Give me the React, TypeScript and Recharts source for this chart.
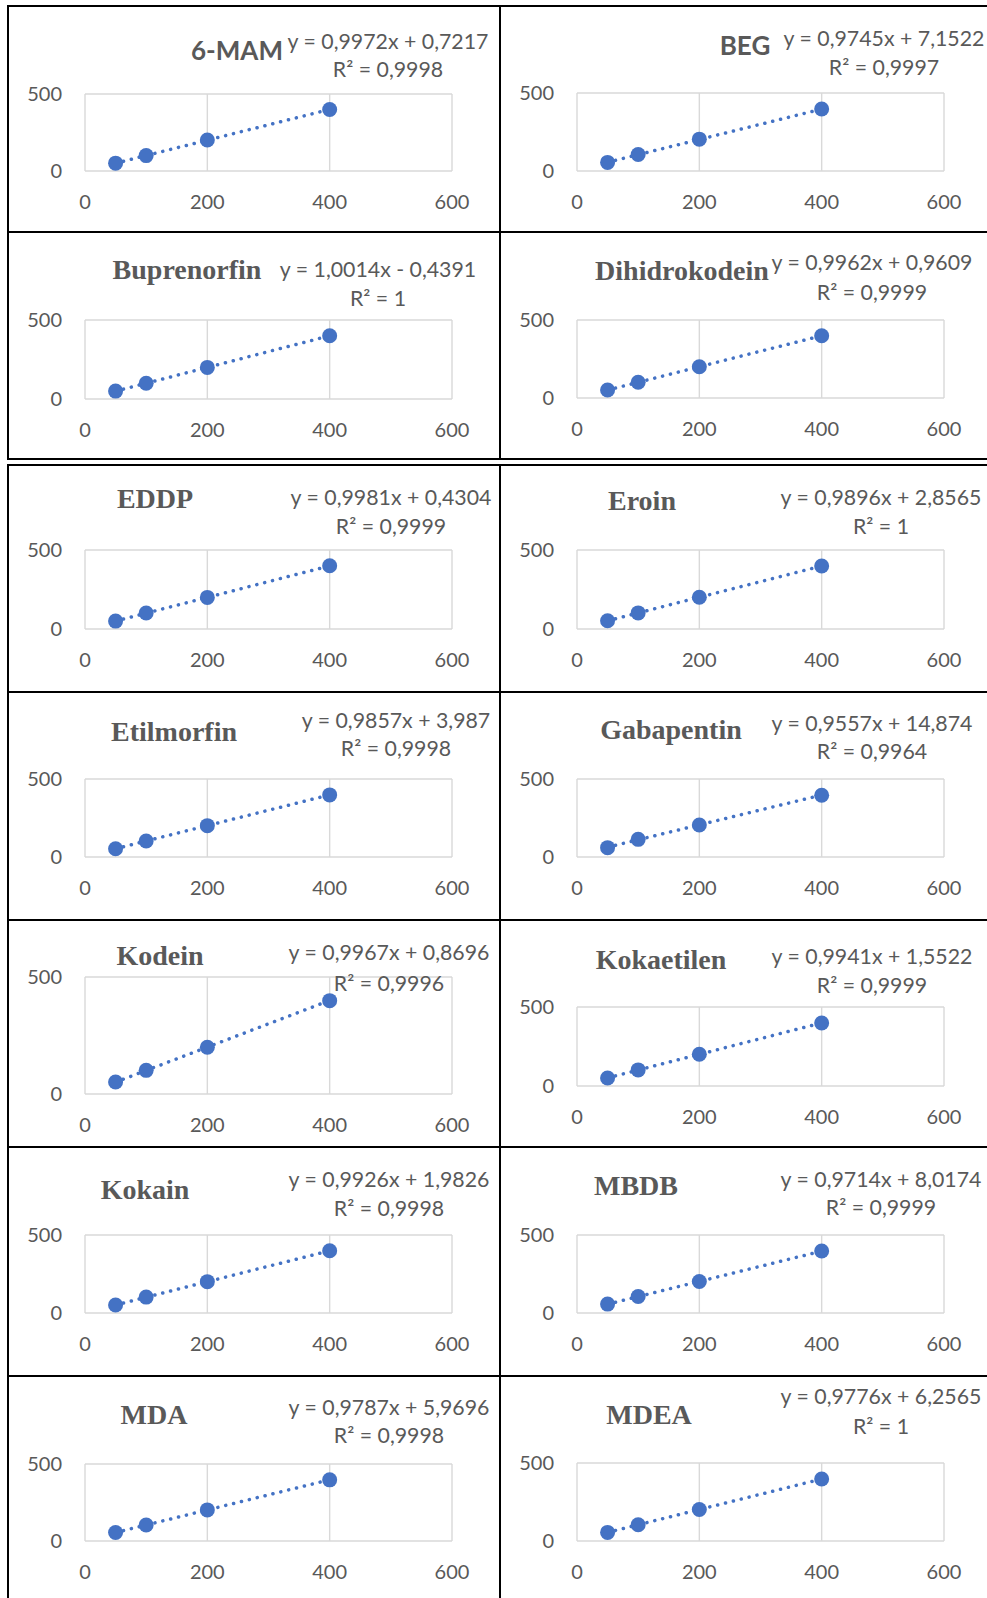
import React from 'react';
import { ScatterChart, Scatter, XAxis, YAxis, CartesianGrid } from 'recharts';

const compounds = [
  '6-MAM', 'BEG', 'Buprenorfin', 'Dihidrokodein', 'EDDP', 'Eroin', 'Etilmorfin',
  'Gabapentin', 'Kodein', 'Kokaetilen', 'Kokain', 'MBDB', 'MDA', 'MDEA',
];

// calibrator concentrations (x) shared by every compound
const concentrations = [50, 100, 200, 400];

const mam6Y = [51, 100, 201, 399];
const begY = [55, 106, 204, 397];
const buprenorfinY = [50, 100, 200, 400];
const dihidrokodeinY = [51, 101, 200, 399];
const eddpY = [50, 101, 200, 400];
const eroinY = [52, 102, 201, 399];
const etilmorfinY = [53, 103, 201, 398];
const gabapentinY = [60, 113, 205, 396];
const kodeinY = [51, 101, 200, 399];
const kokaetilenY = [51, 102, 201, 399];
const kokainY = [51, 102, 201, 399];
const mbdbY = [57, 106, 202, 397];
const mdaY = [55, 104, 202, 397];
const mdeaY = [55, 104, 202, 397];

const responses = [
  mam6Y, begY, buprenorfinY, dihidrokodeinY, eddpY, eroinY, etilmorfinY,
  gabapentinY, kodeinY, kokaetilenY, kokainY, mbdbY, mdaY, mdeaY,
];

// linear trendline coefficients shown on each chart
const slopes = [0.9972, 0.9745, 1.0014, 0.9962, 0.9981, 0.9896, 0.9857, 0.9557, 0.9967, 0.9941, 0.9926, 0.9714, 0.9787, 0.9776];
const intercepts = [0.7217, 7.1522, -0.4391, 0.9609, 0.4304, 2.8565, 3.987, 14.874, 0.8696, 1.5522, 1.9826, 8.0174, 5.9696, 6.2565];

const equations = [
  'y = 0,9972x + 0,7217', 'y = 0,9745x + 7,1522', 'y = 1,0014x - 0,4391', 'y = 0,9962x + 0,9609',
  'y = 0,9981x + 0,4304', 'y = 0,9896x + 2,8565', 'y = 0,9857x + 3,987', 'y = 0,9557x + 14,874',
  'y = 0,9967x + 0,8696', 'y = 0,9941x + 1,5522', 'y = 0,9926x + 1,9826', 'y = 0,9714x + 8,0174',
  'y = 0,9787x + 5,9696', 'y = 0,9776x + 6,2565',
];
const rSquared = [
  'R² = 0,9998', 'R² = 0,9997', 'R² = 1', 'R² = 0,9999', 'R² = 0,9999', 'R² = 1', 'R² = 0,9998',
  'R² = 0,9964', 'R² = 0,9996', 'R² = 0,9999', 'R² = 0,9998', 'R² = 0,9999', 'R² = 0,9998', 'R² = 1',
];

const xTicks = [0, 200, 400, 600];
const yTicks = [0, 500];

// page layout: plot box, title centre, equation centre per panel
type Box = { px: number; py: number; ph: number; tx: number; ty: number; serif: boolean; ex: number; ey: number; ry: number };
const layout: Box[] = [
  { px: 85, py: 94, ph: 77, tx: 237, ty: 50, serif: false, ex: 388, ey: 42, ry: 70 },
  { px: 577, py: 93, ph: 78, tx: 745, ty: 45, serif: false, ex: 884, ey: 39, ry: 68 },
  { px: 85, py: 320, ph: 79, tx: 187, ty: 270, serif: true, ex: 378, ey: 270, ry: 299 },
  { px: 577, py: 320, ph: 78, tx: 682, ty: 271, serif: true, ex: 872, ey: 263, ry: 293 },
  { px: 85, py: 550, ph: 79, tx: 155, ty: 499, serif: true, ex: 391, ey: 498, ry: 527 },
  { px: 577, py: 550, ph: 79, tx: 642, ty: 501, serif: true, ex: 881, ey: 498, ry: 527 },
  { px: 85, py: 779, ph: 78, tx: 174, ty: 732, serif: true, ex: 396, ey: 721, ry: 749 },
  { px: 577, py: 779, ph: 78, tx: 671, ty: 730, serif: true, ex: 872, ey: 724, ry: 752 },
  { px: 85, py: 977, ph: 117, tx: 160, ty: 956, serif: true, ex: 389, ey: 953, ry: 984 },
  { px: 577, py: 1007, ph: 79, tx: 661, ty: 960, serif: true, ex: 872, ey: 957, ry: 986 },
  { px: 85, py: 1235, ph: 78, tx: 145, ty: 1190, serif: true, ex: 389, ey: 1180, ry: 1209 },
  { px: 577, py: 1235, ph: 78, tx: 636, ty: 1186, serif: true, ex: 881, ey: 1180, ry: 1208 },
  { px: 85, py: 1464, ph: 77, tx: 154, ty: 1415, serif: true, ex: 389, ey: 1408, ry: 1436 },
  { px: 577, py: 1463, ph: 78, tx: 649, ty: 1415, serif: true, ex: 881, ey: 1397, ry: 1427 },
];

const PLOT_W = 367;
const Y_AXIS_W = 70;
const X_AXIS_H = 50;
const TOP = 15;
const RIGHT = 20;
const BLUE = '#4472C4';
const GREY = '#595959';
const SANS = 'Lato, "Open Sans", sans-serif';
const SERIF = '"Liberation Serif", "DejaVu Serif", serif';

const Dot = (props: any) => <circle cx={props.cx} cy={props.cy} r={7.5} fill={BLUE} />;
const NoDot = () => <g />;

function Panel({ i }: { i: number }) {
  const b = layout[i];
  const points = concentrations.map((x, k) => ({ x, y: responses[i][k] }));
  const xs = [concentrations[0], concentrations[concentrations.length - 1]];
  const trend = xs.map((x) => ({ x, y: slopes[i] * x + intercepts[i] }));
  const centered: React.CSSProperties = {
    position: 'absolute',
    transform: 'translate(-50%, -50%)',
    whiteSpace: 'nowrap',
    lineHeight: 1,
    color: GREY,
  };

  return (
    <>
      <div style={{ position: 'absolute', left: b.px - Y_AXIS_W, top: b.py - TOP }}>
        <ScatterChart
          width={PLOT_W + Y_AXIS_W + RIGHT}
          height={b.ph + TOP + X_AXIS_H}
          margin={{ top: TOP, right: RIGHT, left: 0, bottom: 0 }}
        >
          <CartesianGrid stroke="#D9D9D9" strokeWidth={1.4} />
          <XAxis
            type="number"
            dataKey="x"
            domain={[0, 600]}
            ticks={xTicks}
            height={X_AXIS_H}
            axisLine={false}
            tickLine={false}
            tickSize={6}
            tickMargin={18}
            tick={{ fill: GREY, fontSize: 20, fontFamily: SANS }}
          />
          <YAxis
            type="number"
            dataKey="y"
            domain={[0, 500]}
            ticks={yTicks}
            width={Y_AXIS_W}
            axisLine={false}
            tickLine={false}
            tickSize={6}
            tickMargin={17}
            tick={{ fill: GREY, fontSize: 20, fontFamily: SANS }}
          />
          <Scatter
            data={trend}
            shape={NoDot}
            line={{ stroke: BLUE, strokeWidth: 3.5, strokeDasharray: '0.1 8', strokeLinecap: 'round' }}
            isAnimationActive={false}
          />
          <Scatter data={points} shape={Dot} isAnimationActive={false} />
        </ScatterChart>
      </div>
      <div
        style={{
          ...centered,
          left: b.tx,
          top: b.ty,
          fontFamily: b.serif ? SERIF : SANS,
          fontWeight: 700,
          fontSize: b.serif ? 28 : 26,
        }}
      >
        {compounds[i]}
      </div>
      <div style={{ ...centered, left: b.ex, top: b.ey, fontFamily: SANS, fontSize: 21.3 }}>{equations[i]}</div>
      <div style={{ ...centered, left: b.ex, top: b.ry, fontFamily: SANS, fontSize: 21.3 }}>{rSquared[i]}</div>
    </>
  );
}

const hLines = [6, 232, 459, 465, 692, 920, 1147, 1376];

export default function App() {
  return (
    <div style={{ position: 'absolute', left: 0, top: 0, width: 987, height: 1598, background: '#fff', overflow: 'hidden' }}>
      {/* table borders */}
      {hLines.map((y) => (
        <div key={y} style={{ position: 'absolute', left: 8, top: y - 1, width: 979, height: 2, background: '#000' }} />
      ))}
      {[8, 500].map((x) => (
        <React.Fragment key={x}>
          <div style={{ position: 'absolute', left: x - 1, top: 5, width: 2, height: 455, background: '#000' }} />
          <div style={{ position: 'absolute', left: x - 1, top: 464, width: 2, height: 1134, background: '#000' }} />
        </React.Fragment>
      ))}
      {compounds.map((_, i) => (
        <Panel key={i} i={i} />
      ))}
    </div>
  );
}
